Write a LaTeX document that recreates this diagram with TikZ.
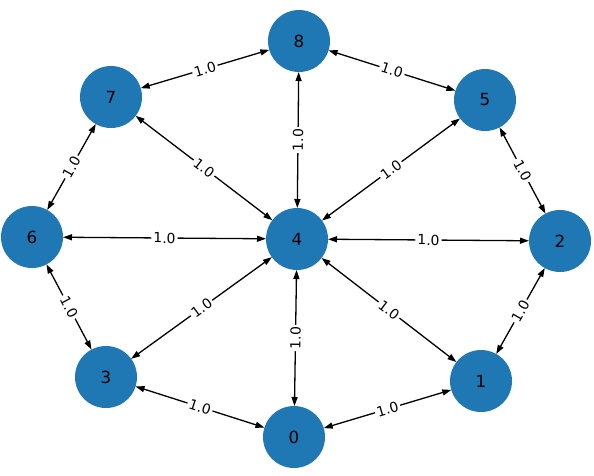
\documentclass[tikz,border=0pt]{standalone}
\usepackage{fontspec}
\setmainfont{DejaVu Sans}
\usetikzlibrary{arrows.meta}
\definecolor{tabblue}{HTML}{1F77B4}

\begin{document}
\begin{tikzpicture}[x=1pt, y=-1pt,
  vert/.style={circle, fill=tabblue, minimum size=62pt, inner sep=0pt, outer sep=0pt, font=\fontsize{16.7}{18}\selectfont},
  link/.style={{Triangle[length=9pt, width=6pt]}-{Triangle[length=9pt, width=6pt]}, line width=1.3pt},
  wt/.style={fill=white, inner sep=2pt, sloped, font=\fontsize{13.9}{15}\selectfont}]
\useasboundingbox (0,0) rectangle (594,475);
\node[vert] (n8) at (299,41) {8};
\node[vert] (n7) at (111,97) {7};
\node[vert] (n5) at (485,100) {5};
\node[vert] (n6) at (32,237) {6};
\node[vert] (n4) at (297,239) {4};
\node[vert] (n2) at (560,241) {2};
\node[vert] (n3) at (106,377) {3};
\node[vert] (n1) at (481,381) {1};
\node[vert] (n0) at (294,437) {0};
\draw[link] (n8) -- node[wt]{1.0} (n7);
\draw[link] (n8) -- node[wt]{1.0} (n5);
\draw[link] (n8) -- node[wt]{1.0} (n4);
\draw[link] (n7) -- node[wt]{1.0} (n4);
\draw[link] (n7) -- node[wt]{1.0} (n6);
\draw[link] (n5) -- node[wt]{1.0} (n4);
\draw[link] (n5) -- node[wt]{1.0} (n2);
\draw[link] (n6) -- node[wt]{1.0} (n4);
\draw[link] (n4) -- node[wt]{1.0} (n2);
\draw[link] (n6) -- node[wt]{1.0} (n3);
\draw[link] (n3) -- node[wt]{1.0} (n4);
\draw[link] (n4) -- node[wt]{1.0} (n1);
\draw[link] (n4) -- node[wt]{1.0} (n0);
\draw[link] (n3) -- node[wt]{1.0} (n0);
\draw[link] (n0) -- node[wt]{1.0} (n1);
\draw[link] (n1) -- node[wt]{1.0} (n2);
\end{tikzpicture}
\end{document}
